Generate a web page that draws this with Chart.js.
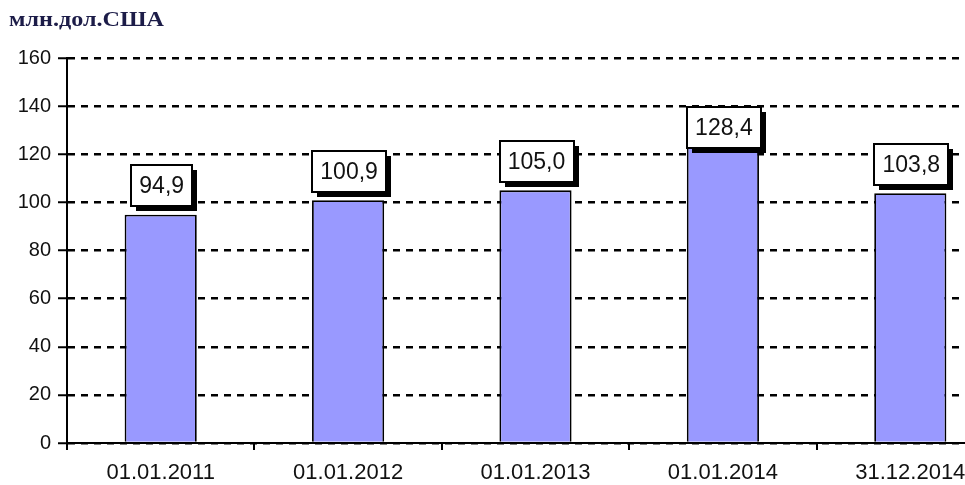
<!DOCTYPE html>
<html>
<head>
<meta charset="utf-8">
<script src="https://cdn.jsdelivr.net/npm/chart.js@4/dist/chart.umd.min.js"></script>
<style>
  html, body { margin: 0; padding: 0; background: #fff; overflow: hidden; }
  #wrap { position: relative; width: 1006px; height: 485px; }
</style>
</head>
<body>
<div id="wrap"><canvas id="chart" width="1006" height="485"></canvas></div>
<script>
const categories = ['01.01.2011', '01.01.2012', '01.01.2013', '01.01.2014', '31.12.2014'];
const values = [94.9, 100.9, 105.0, 128.4, 103.8];
const yTicks = [0, 20, 40, 60, 80, 100, 120, 140, 160];
const unitLabel = 'млн.дол.США';

// boxed labels with a hard black shadow, like the Excel original
const boxLabels = {
  id: 'boxLabels',
  afterDatasetsDraw(chart) {
    const ctx = chart.ctx;
    const meta = chart.getDatasetMeta(0);
    const y = chart.scales.y;
    ctx.save();
    ctx.font = '23px "Liberation Sans", Arial, sans-serif';
    ctx.textAlign = 'center';
    ctx.textBaseline = 'middle';
    meta.data.forEach((bar, i) => {
      const txt = values[i].toFixed(1).replace('.', ',');
      const w = Math.round(ctx.measureText(txt).width + 16);
      const h = 41;
      const cy = Math.max(bar.y - 29, y.getPixelForValue(131));
      const x0 = Math.round(bar.x - w / 2 + 1);
      const y0 = Math.round(cy - h / 2);
      ctx.fillStyle = '#000';
      ctx.fillRect(x0 + 5, y0 + 5, w, h);
      ctx.fillStyle = '#fff';
      ctx.fillRect(x0, y0, w, h);
      ctx.strokeStyle = '#000';
      ctx.lineWidth = 2;
      ctx.strokeRect(x0, y0, w, h);
      ctx.fillStyle = '#111';
      ctx.fillText(txt, bar.x + 1, cy + 1);
    });
    ctx.restore();
  }
};

const unitTitle = {
  id: 'unitTitle',
  afterDraw(chart) {
    const ctx = chart.ctx;
    ctx.save();
    ctx.font = 'bold 21px "Liberation Serif", "Times New Roman", serif';
    ctx.fillStyle = '#1c1c48';
    ctx.textBaseline = 'middle';
    // stretched a bit sideways, as in the scanned original
    ctx.translate(9, 21);
    ctx.scale(1.15, 1);
    ctx.fillText(unitLabel, 0, 0);
    ctx.restore();
  }
};

new Chart(document.getElementById('chart'), {
  type: 'bar',
  data: {
    labels: categories,
    datasets: [{
      data: values,
      backgroundColor: '#9999ff',
      borderColor: '#000',
      borderWidth: 1.8,
      categoryPercentage: 1,
      barPercentage: 0.385
    }]
  },
  options: {
    responsive: false,
    animation: false,
    events: [],
    layout: { padding: { top: 58, right: 2, left: 0, bottom: 0 } },
    plugins: { legend: { display: false }, tooltip: { enabled: false }, title: { display: false } },
    scales: {
      x: {
        afterFit(s) { s.height = 42; },
        grid: { drawOnChartArea: false, drawTicks: true, tickLength: 7, color: '#000', lineWidth: 2, offset: true },
        border: { display: true, color: '#000', width: 2 },
        ticks: { color: '#111', font: { family: '"Liberation Sans", Arial, sans-serif', size: 22 }, padding: 10 }
      },
      y: {
        min: 0,
        max: 160,
        afterFit(s) { s.width = 67; },
        afterBuildTicks(s) { s.ticks = yTicks.map(v => ({ value: v })); },
        grid: { color: '#000', lineWidth: 2.5, tickLength: 9, tickBorderDash: [], tickWidth: 2, drawTicks: true },
        border: { display: true, color: '#000', width: 2, dash: [7, 6] },
        ticks: { color: '#111', font: { family: '"Liberation Sans", Arial, sans-serif', size: 20 }, padding: 7 }
      }
    }
  },
  plugins: [boxLabels, unitTitle]
});
</script>
</body>
</html>
